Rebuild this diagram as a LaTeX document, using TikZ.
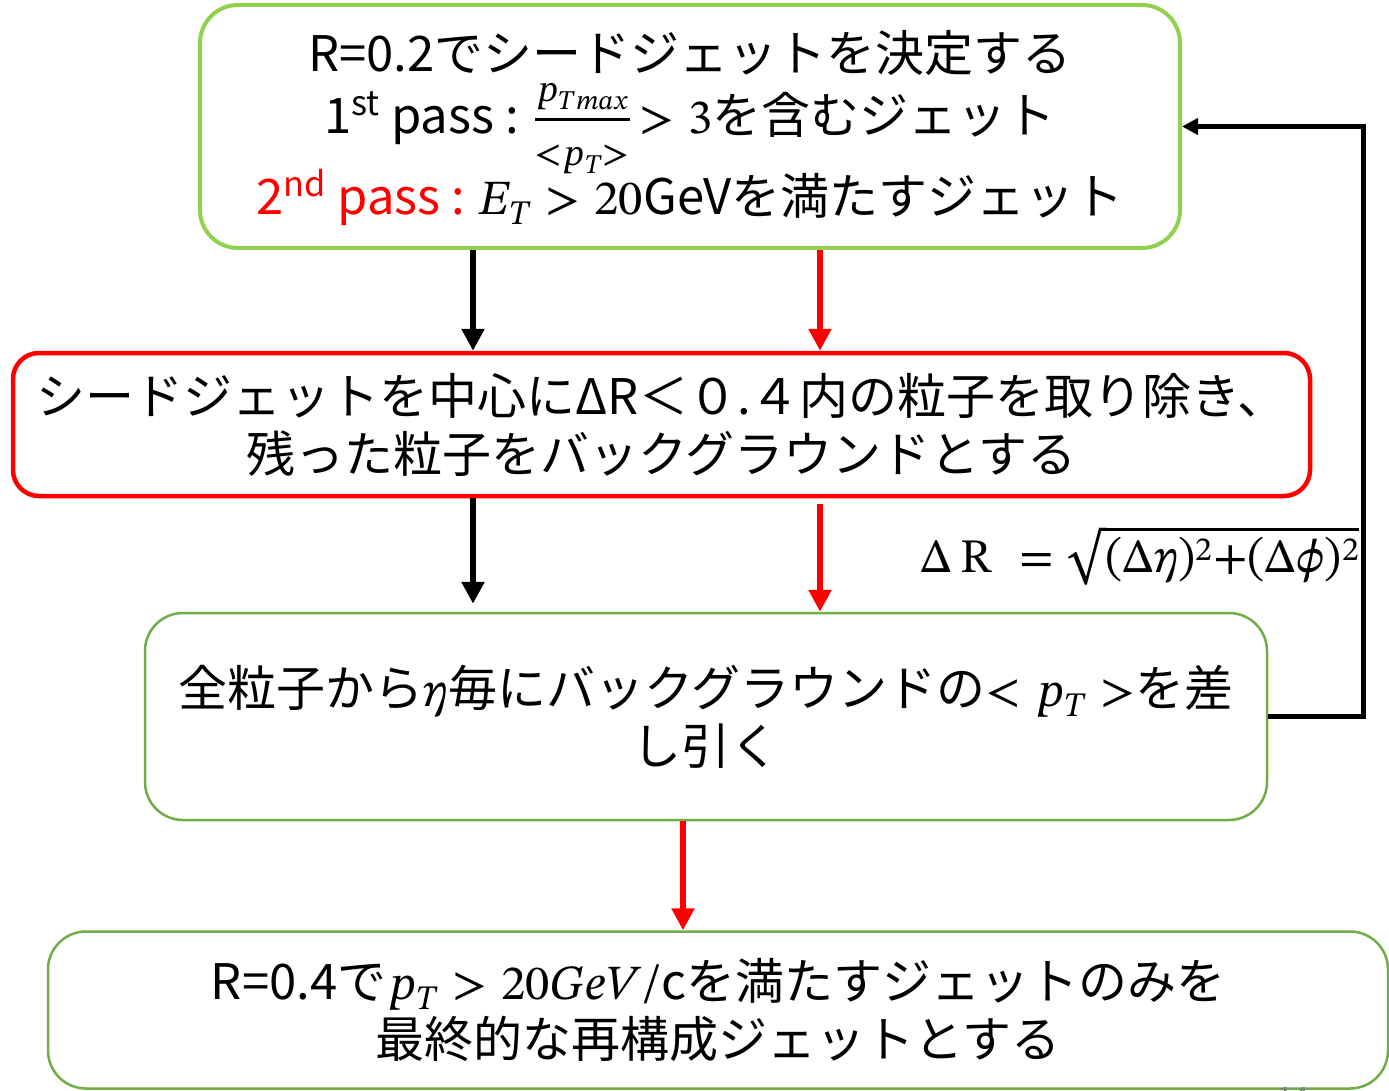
\documentclass[tikz,border=0pt]{standalone}
\usepackage{fontspec}
\usepackage{unicode-math}
\setmainfont{Noto Sans CJK JP}
\setmathfont{STIX Two Math}
\usetikzlibrary{arrows.meta}
\definecolor{gA}{HTML}{92D050}
\definecolor{gB}{HTML}{70AD47}
\definecolor{rr}{HTML}{FF0000}
\begin{document}
\begin{tikzpicture}[x=1pt,y=-1pt,
  box/.style={draw, rounded corners=38, fill=white, align=center, inner sep=0pt},
  txt/.style={font=\fontsize{49}{66}\selectfont},
  arr/.style={line width=6, -{Triangle[length=22,width=22]}},
  fb/.style={line width=5, -{Triangle[length=16,width=16]}}]
\useasboundingbox (0,0) rectangle (1389,1091);
\fill[white] (0,0) rectangle (1389,1091);
\coordinate (xa) at (473,0);
\coordinate (xb) at (820,0);
\coordinate (xc) at (683,0);
\node[box, draw=gA, line width=4, minimum width=980, minimum height=243] (b1) at (690,126.5) {};
\node[txt, align=center, inner sep=0pt] (t1) at (690,128)
 {R=0.2でシードジェットを決定する\\[-4pt]
  1\textsuperscript{st} pass : {\fontsize{54}{58}\selectfont$\frac{p_{Tmax}}{{<}p_T{>}}$}\,$> 3$を含むジェット\\[-5pt]
  {\color{rr}2\textsuperscript{nd} pass :} $E_T > 20$GeVを満たすジェット};
\node[box, draw=rr, line width=4.5, rounded corners=26, minimum width=1297, minimum height=143, txt] (b2) at (661.5,424.5)
 {シードジェットを中心にΔR＜０.４内の粒子を取り除き、\\[-8pt]
  残った粒子をバックグラウンドとする};
\node[box, draw=gB, line width=2.5, minimum width=1122, minimum height=207, txt] (b3) at (706,716.5)
 {全粒子から$\eta$毎にバックグラウンドの$<p_T>$を差\\[-8pt]
  し引く};
\node[box, draw=gB, line width=2.5, minimum width=1340, minimum height=157, txt] (b4) at (718,1010)
 {R=0.4で$p_T > 20GeV/$cを満たすジェットのみを\\[-8pt]
  最終的な再構成ジェットとする};
\node[font=\fontsize{48}{56}\selectfont, inner sep=0pt] (f) at (1140,555)
 {$\Delta\,\symup{R}\; = \sqrt{(\Delta\eta)^2{+}(\Delta\phi)^2}$};
\node[font=\fontsize{28}{32}\selectfont, text=gray, inner sep=0pt] (pg) at (1293,1098) {14};
\draw[arr, black] (b1.south -| xa) -- (b2.north -| xa);
\draw[arr, rr] (b1.south -| xb) -- (b2.north -| xb);
\draw[arr, black, shorten >=8] (b2.south -| xa) -- (b3.north -| xa);
\draw[arr, rr, shorten <=6] (b2.south -| xb) -- (b3.north -| xb);
\draw[arr, rr] (b3.south -| xc) -- (b4.north -| xc);
\draw[fb] (b3.east) -- ++(95,0) |- (b1.east);
\end{tikzpicture}
\end{document}
